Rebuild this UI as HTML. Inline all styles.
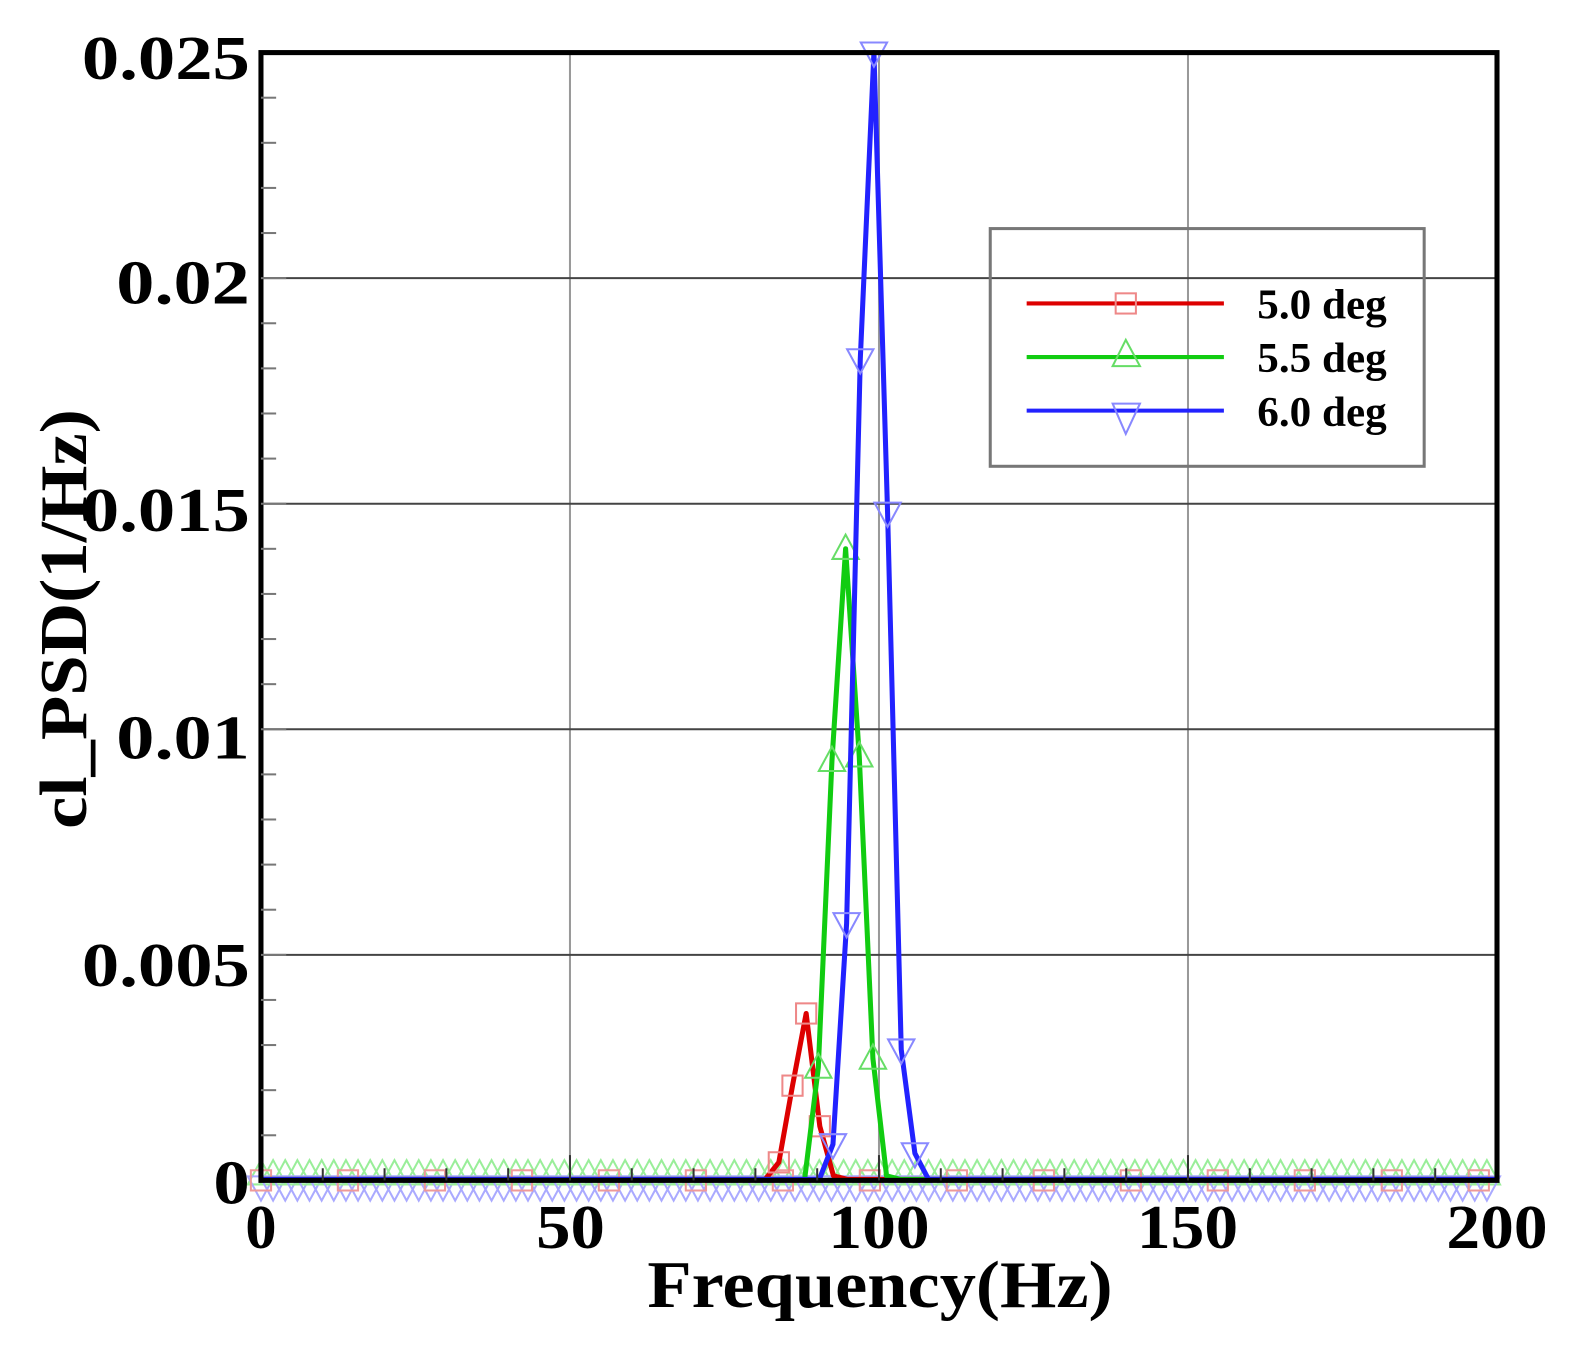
<!DOCTYPE html>
<html><head><meta charset="utf-8"><style>
html,body{margin:0;padding:0;background:#fff;}
svg{display:block}
text{font-family:"Liberation Serif",serif;font-weight:bold;fill:#000}
</style></head><body>
<svg id="s" width="1585" height="1358" viewBox="0 0 1567 1342.6" preserveAspectRatio="none" xmlns="http://www.w3.org/2000/svg">
<rect width="1585" height="1358" fill="#fff"/>
<g id="grid" stroke-width="2"></g>
<g id="series"></g>
<g id="axes"></g>
<g font-size="62" text-anchor="end">
<text x="247" y="78" textLength="166" lengthAdjust="spacingAndGlyphs">0.025</text>
<text x="247" y="300" textLength="132" lengthAdjust="spacingAndGlyphs">0.02</text>
<text x="247" y="525" textLength="166" lengthAdjust="spacingAndGlyphs">0.015</text>
<text x="247" y="750" textLength="132" lengthAdjust="spacingAndGlyphs">0.01</text>
<text x="247" y="975" textLength="166" lengthAdjust="spacingAndGlyphs">0.005</text>
<text x="247" y="1190" textLength="36" lengthAdjust="spacingAndGlyphs">0</text>
</g>
<g font-size="62" text-anchor="middle">
<text x="258" y="1234">0</text>
<text x="564" y="1234" textLength="68" lengthAdjust="spacingAndGlyphs">50</text>
<text x="869" y="1234" textLength="100" lengthAdjust="spacingAndGlyphs">100</text>
<text x="1174" y="1234" textLength="100" lengthAdjust="spacingAndGlyphs">150</text>
<text x="1480" y="1234" textLength="100" lengthAdjust="spacingAndGlyphs">200</text>
</g>
<text x="870" y="1292" font-size="66" text-anchor="middle" textLength="460" lengthAdjust="spacingAndGlyphs">Frequency(Hz)</text>
<text transform="translate(85,612) rotate(-90)" font-size="66" text-anchor="middle" textLength="415" lengthAdjust="spacingAndGlyphs">cl_PSD(1/Hz)</text>
<g id="legend">
<rect x="979" y="226" width="429" height="235" fill="none" stroke="#777" stroke-width="3"/>
<line x1="1015" y1="300" x2="1210" y2="300" stroke="#d00" stroke-width="4"/>
<rect x="1103" y="290" width="20" height="20" fill="none" stroke="#e88" stroke-width="2"/>
<line x1="1015" y1="353" x2="1210" y2="353" stroke="#1c1" stroke-width="4"/>
<polygon points="1113,336 1100,362 1127,362" fill="none" stroke="#6d6" stroke-width="2"/>
<line x1="1015" y1="406" x2="1210" y2="406" stroke="#22f" stroke-width="4"/>
<polygon points="1113,429 1100,399 1127,399" fill="none" stroke="#88f" stroke-width="2"/>
<g font-size="42"><text x="1243" y="315" textLength="128" lengthAdjust="spacingAndGlyphs">5.0 deg</text><text x="1243" y="368" textLength="128" lengthAdjust="spacingAndGlyphs">5.5 deg</text><text x="1243" y="421" textLength="128" lengthAdjust="spacingAndGlyphs">6.0 deg</text></g>
</g>
</svg>
<script>
const NS="http://www.w3.org/2000/svg";
const L=258,R=1480,T=52,B=1167;
const X=f=>L+f*(R-L)/200, Y=v=>B-v*(B-T)/0.025;
function el(p,tag,a){const e=document.createElementNS(NS,tag);for(const k in a)e.setAttribute(k,a[k]);document.getElementById(p).appendChild(e);return e;}
[50,100,150].forEach(f=>el("grid","line",{x1:X(f),y1:T,x2:X(f),y2:B,stroke:"#999"}));
[0.005,0.01,0.015,0.02].forEach(v=>el("grid","line",{x1:L,y1:Y(v),x2:R,y2:Y(v),stroke:"#444"}));
el("axes","rect",{x:L,y:T,width:R-L,height:B-T,fill:"none",stroke:"#000","stroke-width":5});
for(let i=1;i<25;i++){const y=Y(i*0.001);el("axes","line",{x1:L,y1:y,x2:L+(i%5==0?25:15),y2:y,stroke:"#777","stroke-width":2});}
for(let f=10;f<200;f+=10){el("axes","line",{x1:X(f),y1:B,x2:X(f),y2:B-(f%50==0?25:12),stroke:"#333","stroke-width":2});}
const dx=13.5;
const S=[
 {c:"#d00",m:"#e88",t:"sq",pk:797,v:[0,0.0004,0.0021,0.0037,0.0012,0.0001,0]},
 {c:"#1c1",m:"#6d6",t:"up",pk:836,v:[0,0.0025,0.0093,0.014,0.0094,0.0027,0.0001,0]},
 {c:"#22f",m:"#88f",t:"dn",pk:864,v:[0,0.0008,0.0057,0.0182,0.025,0.0148,0.0029,0.0006,0]}
];
function marker(t,x,y,col){
 if(t=="sq")el("series","rect",{x:x-10,y:y-10,width:20,height:20,fill:"none",stroke:col,"stroke-width":2});
 else if(t=="up")el("series","polygon",{points:`${x},${y-14} ${x-13},${y+10} ${x+13},${y+10}`,fill:"none",stroke:col,"stroke-width":2});
 else el("series","polygon",{points:`${x},${y+14} ${x-13},${y-10} ${x+13},${y-10}`,fill:"none",stroke:col,"stroke-width":2});
}
for(let x=L;x<=R;x+=12){marker("up",x,B-6,"#9e9");marker("dn",x,B+6,"#aaf");}
for(let x=L;x<=R;x+=86){marker("sq",x,B,"#e99");}
S.forEach(s=>{
 const k0=s.v.indexOf(Math.max(...s.v));
 const pts=[[L,B-1]];
 s.v.forEach((v,i)=>pts.push([s.pk+(i-k0)*dx,Y(v)-(v==0?1:0)]));
 pts.push([R,B-1]);
 el("series","polyline",{points:pts.map(p=>p.join(",")).join(" "),fill:"none",stroke:s.c,"stroke-width":5,"stroke-linejoin":"round"});
 s.v.forEach((v,i)=>{if(v>0.0002)marker(s.t,s.pk+(i-k0)*dx,Y(v),s.m);});
});
</script>
</body></html>
